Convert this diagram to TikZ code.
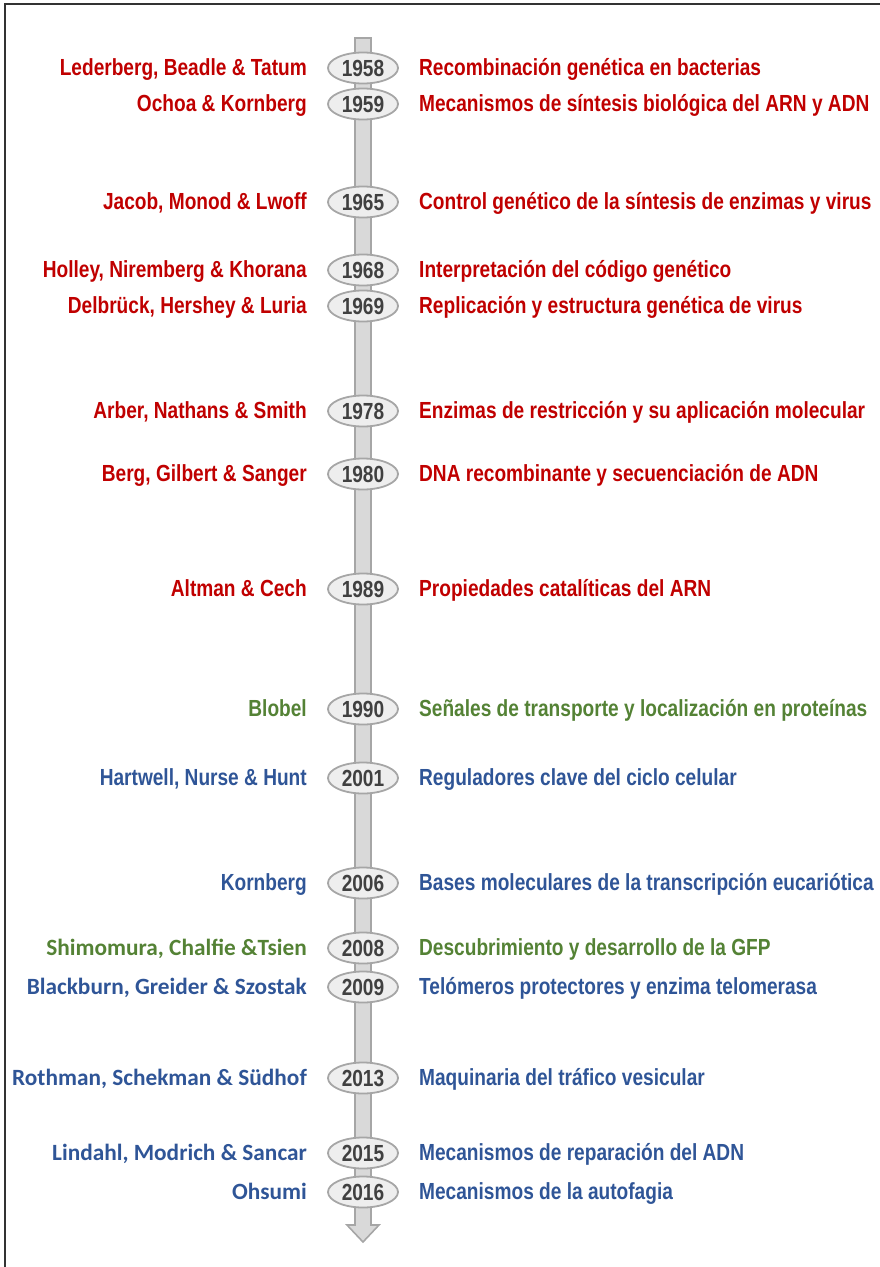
\documentclass[tikz,border=0pt]{standalone}
\usepackage{fontspec}
\setmainfont{Liberation Sans}[FakeStretch=0.82]
\newfontfamily\calfont{Carlito}
\usetikzlibrary{shapes.geometric}
\definecolor{nobelred}{HTML}{C00000}
\definecolor{nobelgreen}{HTML}{548235}
\definecolor{nobelblue}{HTML}{2F5597}
\definecolor{bargray}{HTML}{D9D9D9}
\definecolor{edgegray}{HTML}{A6A6A6}
\definecolor{ovalgray}{HTML}{EEEEEE}
\definecolor{yeartext}{HTML}{404040}

\begin{document}
\begin{tikzpicture}[x=1pt,y=-1pt,
    every node/.style={font=\fontsize{23.3}{25}\selectfont\bfseries},
    yearoval/.style={ellipse,draw=edgegray,line width=1.8pt,fill=ovalgray,
      minimum width=70pt,minimum height=31pt,inner sep=0pt,text=yeartext},
    who/.style={anchor=base east,inner sep=0pt},
    what/.style={anchor=base west,inner sep=0pt}]
  \useasboundingbox (0,0) rectangle (880,1267);
  \draw[line width=2pt,draw=black!80] (5,4) rectangle (900,1290);
  % time axis with arrow head
  \filldraw[fill=bargray,draw=edgegray,line width=1.6pt]
    (355,38) -- (371,38) -- (371,1225) -- (379,1225) -- (363,1242)
    -- (347,1225) -- (355,1225) -- cycle;
  \foreach \yy/\yr/\who/\what/\col/\ff in {
      68/1958/{Lederberg, Beadle \& Tatum}/{Recombinación genética en bacterias}/nobelred/\relax,
      104/1959/{Ochoa \& Kornberg}/{Mecanismos de síntesis biológica del ARN y ADN}/nobelred/\relax,
      202/1965/{Jacob, Monod \& Lwoff}/{Control genético de la síntesis de enzimas y virus}/nobelred/\relax,
      270/1968/{Holley, Niremberg \& Khorana}/{Interpretación del código genético}/nobelred/\relax,
      306/1969/{Delbrück, Hershey \& Luria}/{Replicación y estructura genética de virus}/nobelred/\relax,
      411/1978/{Arber, Nathans \& Smith}/{Enzimas de restricción y su aplicación molecular}/nobelred/\relax,
      474/1980/{Berg, Gilbert \& Sanger}/{DNA recombinante y secuenciación de ADN}/nobelred/\relax,
      589/1989/{Altman \& Cech}/{Propiedades catalíticas del ARN}/nobelred/\relax,
      709/1990/{Blobel}/{Señales de transporte y localización en proteínas}/nobelgreen/\relax,
      778/2001/{Hartwell, Nurse \& Hunt}/{Reguladores clave del ciclo celular}/nobelblue/\relax,
      883/2006/{Kornberg}/{Bases moleculares de la transcripción eucariótica}/nobelblue/\relax,
      948/2008/{Shimomura, Chalfie \&Tsien}/{Descubrimiento y desarrollo de la GFP}/nobelgreen/\calfont,
      987/2009/{Blackburn, Greider \& Szostak}/{Telómeros protectores y enzima telomerasa}/nobelblue/\calfont,
      1078/2013/{Rothman, Schekman \& Südhof}/{Maquinaria del tráfico vesicular}/nobelblue/\calfont,
      1153/2015/{Lindahl, Modrich \& Sancar}/{Mecanismos de reparación del ADN}/nobelblue/\calfont,
      1192/2016/{Ohsumi}/{Mecanismos de la autofagia}/nobelblue/\calfont}{
    \node[yearoval] (y\yr) at (363,\yy) {\yr};
    \node[who,text=\col] (n\yr) at (307,\yy+7.5) {\ff\who};
    \node[what,text=\col] (d\yr) at (419,\yy+7.5) {\what};
  }
\end{tikzpicture}
\end{document}
